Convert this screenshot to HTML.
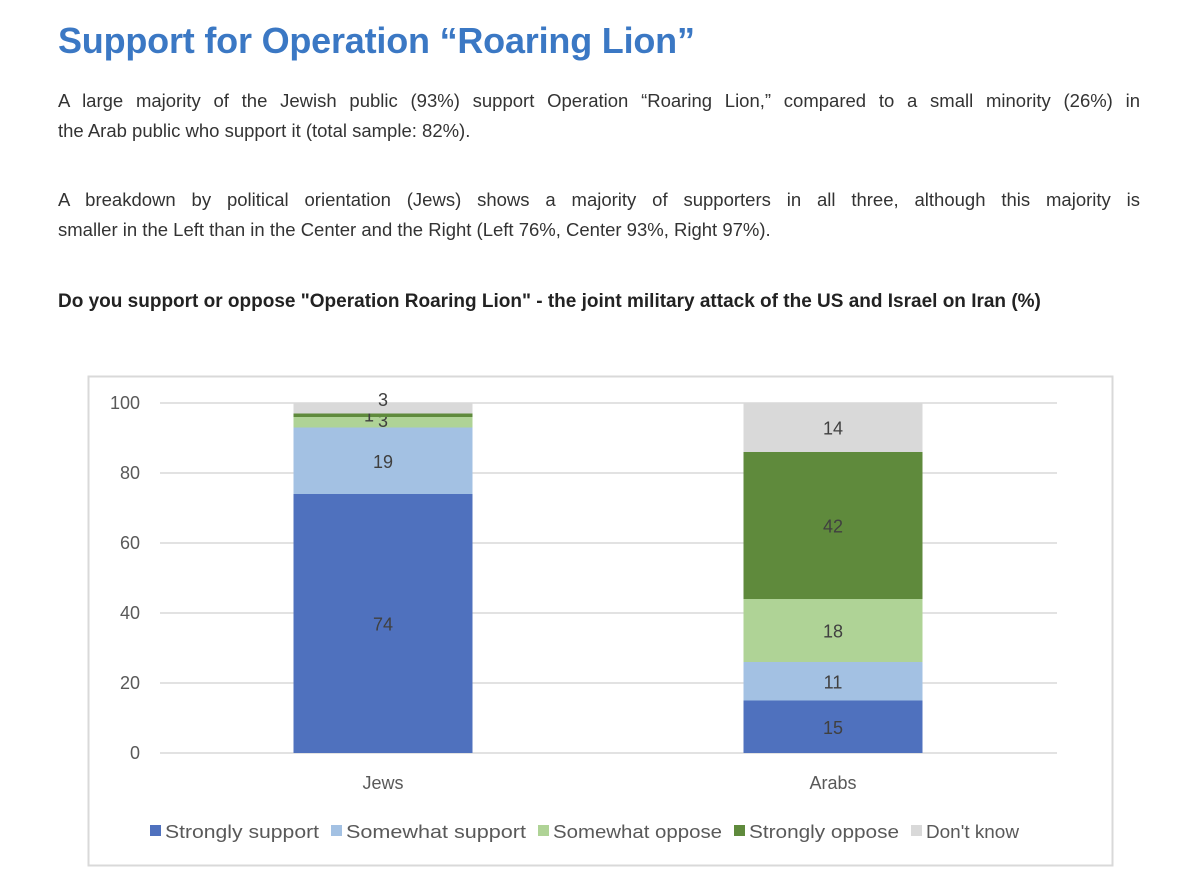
<!DOCTYPE html>
<html><head><meta charset="utf-8">
<style>
body{margin:0;width:1200px;height:886px;background:#fff;font-family:"Liberation Sans",sans-serif;overflow:hidden;position:relative}
h1{position:absolute;left:58px;top:20px;margin:0;font-size:36px;color:#3b78c4;font-weight:bold;letter-spacing:-0.2px}
p{position:absolute;left:58px;width:1082px;margin:0;font-size:18.5px;line-height:30px;color:#333}
p span{display:block}
p span.j{text-align:justify;text-align-last:justify}
#q{font-weight:bold;color:#222;font-size:19px}
svg{position:absolute;left:0;top:0}
</style></head><body>
<h1>Support for Operation “Roaring Lion”</h1>
<p style="top:86px"><span class="j">A large majority of the Jewish public (93%) support Operation “Roaring Lion,” compared to a small minority (26%) in</span><span>the Arab public who support it (total sample: 82%).</span></p>
<p style="top:185px"><span class="j">A breakdown by political orientation (Jews) shows a majority of supporters in all three, although this majority is</span><span>smaller in the Left than in the Center and the Right (Left 76%, Center 93%, Right 97%).</span></p>
<p id="q" style="top:287px">Do you support or oppose "Operation Roaring Lion" - the joint military attack of the US and Israel on Iran (%)</p>
<svg id="chart" width="1200" height="886"></svg>
<script>
const categories=["Jews","Arabs"];
const seriesNames=["Strongly support","Somewhat support","Somewhat oppose","Strongly oppose","Don't know"];
const strongSupport=[74,15];
const someSupport=[19,11];
const someOppose=[3,18];
const strongOppose=[1,42];
const dontKnow=[3,14];
const yTicks=[0,20,40,60,80,100];
const colors=["#4f71be","#a3c1e3","#afd396","#5f8a3c","#d9d9d9"];
const series=[strongSupport,someSupport,someOppose,strongOppose,dontKnow];
const svg=document.getElementById('chart');
const NS="http://www.w3.org/2000/svg";
function mk(t,a,txt){const e=document.createElementNS(NS,t);for(const k in a)e.setAttribute(k,a[k]);if(txt!==undefined)e.textContent=txt;svg.appendChild(e);return e;}
const y0=753,y100=403,xL=160,xR=1057;
const yS=v=>y0-(v/100)*(y0-y100);
const xC=i=>383+i*450;
const bw=179;
let f=mk('rect',{x:88.5,y:376.5,width:1024,height:489,fill:'none',stroke:'#d9d9d9','stroke-width':2});

yTicks.forEach(t=>{
 let g=mk('line',{x1:xL,x2:xR,y1:yS(t),y2:yS(t),stroke:'#d9d9d9','stroke-width':1.5});
 
 let l=mk('text',{x:140,y:yS(t)+6,'text-anchor':'end','font-size':18,fill:'#595959'},t);
 
});
categories.forEach((c,i)=>{
 let cum=0;
 series.forEach((s,j)=>{
  const v=s[i];
  const r=mk('rect',{x:xC(i)-bw/2,y:yS(cum+v),width:bw,height:yS(cum)-yS(cum+v),fill:colors[j]});
  
  let ly=(yS(cum)+yS(cum+v))/2+7, lx=xC(i);
  if(v<5){ if(j===3){lx-=14;ly=yS(cum+v)+8;} else if(j===4){ly=yS(cum+v)+3;} else {ly=yS(cum+v)+10;} }
  const t=mk('text',{x:lx,y:ly,'text-anchor':'middle','font-size':18,fill:'#404040'},v);
  
  cum+=v;
 });
 const cl=mk('text',{x:xC(i),y:789,'text-anchor':'middle','font-size':18,fill:'#595959'},c);
 
});
const legX=[150,331,538,734,911];
seriesNames.forEach((n,j)=>{
 const sq=mk('rect',{x:legX[j],y:825,width:11,height:11,fill:colors[j]});
 
 const t=mk('text',{x:legX[j]+15,y:838,'font-size':18,fill:'#595959'},n);
 
 const w=[legX[1]-legX[0],legX[2]-legX[1],legX[3]-legX[2],legX[4]-legX[3],120][j]-27;
 t.setAttribute('textLength',w);t.setAttribute('lengthAdjust','spacingAndGlyphs');
});
</script>
</body></html>
